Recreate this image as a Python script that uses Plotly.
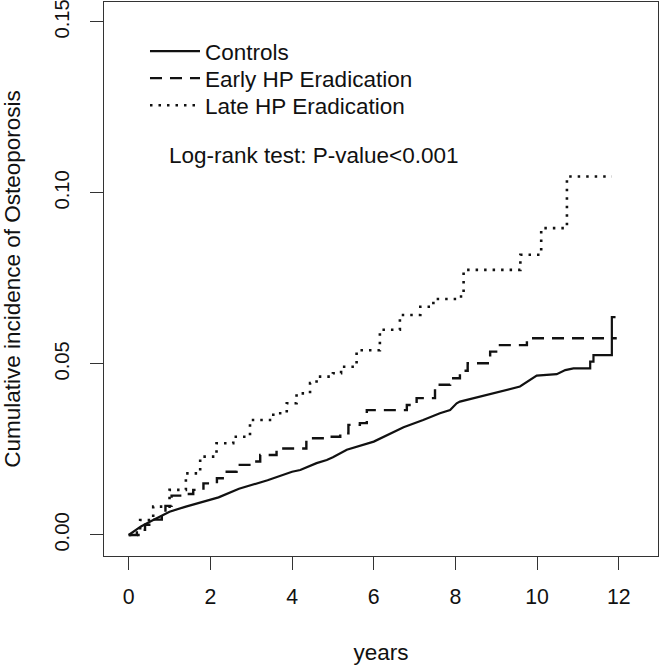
import plotly.graph_objects as go

# ---- data (years, cumulative incidence) ----
controls_t = [0, 0.3, 0.6, 1.0, 1.4, 1.8, 2.2, 2.7, 3.4, 4.0, 4.2, 4.6, 4.85, 5.0, 5.34,
              6.0, 6.73, 7.21, 7.62, 7.87, 8.03, 8.11, 8.44, 9.09, 9.58, 9.99, 10.48,
              10.69, 10.89, 11.3, 11.3, 11.38, 11.38, 11.83, 11.83, 11.92]
controls_v = [0, 0.0025, 0.0044, 0.0068, 0.0083, 0.0097, 0.011, 0.0135, 0.016, 0.0185,
              0.019, 0.021, 0.0219, 0.0227, 0.0249, 0.0273, 0.0315, 0.0336, 0.0356,
              0.0365, 0.0385, 0.039, 0.040, 0.0419, 0.0434, 0.0466, 0.0470, 0.0482,
              0.0487, 0.0487, 0.0507, 0.0507, 0.0526, 0.0526, 0.0637, 0.0637]

early_t = [0, 0.2, 0.4, 0.6, 0.81, 0.9, 1.05, 1.3, 1.58, 1.83, 2.16, 2.4, 2.64, 3.0,
           3.22, 3.62, 4.35, 4.85, 5.18, 5.38, 5.66, 5.83, 6.81, 7.05, 7.5, 7.87, 8.11,
           8.3, 8.85, 9.09, 9.75, 11.95]
early_v = [0, 0.0015, 0.003, 0.0045, 0.0058, 0.0085, 0.0115, 0.012, 0.0132, 0.0151,
           0.0166, 0.0185, 0.0205, 0.0215, 0.0234, 0.0253, 0.0283, 0.0287, 0.0297,
           0.0322, 0.0327, 0.0365, 0.038, 0.040, 0.0439, 0.0458, 0.048, 0.0502,
           0.0536, 0.0555, 0.0575, 0.0575]

late_t = [0, 0.28, 0.6, 1.0, 1.4, 1.75, 2.15, 2.56, 2.97, 3.54, 3.87, 4.11, 4.44, 4.6,
          5.0, 5.2, 5.58, 6.15, 6.64, 7.14, 7.46, 8.07, 8.2, 9.59, 10.1, 10.73, 11.83]
late_v = [0, 0.0044, 0.0083, 0.0132, 0.018, 0.0229, 0.0268, 0.0287, 0.0336, 0.0356,
          0.0385, 0.0414, 0.0444, 0.0463, 0.0473, 0.0492, 0.054, 0.060, 0.0643, 0.0667,
          0.069, 0.0697, 0.0775, 0.0819, 0.0897, 0.1048, 0.1048]

series_names = ["Controls", "Early HP Eradication", "Late HP Eradication"]
x_ticks = [0, 2, 4, 6, 8, 10, 12]
y_ticks = [0.00, 0.05, 0.10, 0.15]
y_tick_labels = ["0.00", "0.05", "0.10", "0.15"]
annotation_text = "Log-rank test: P-value<0.001"

FONT = "Liberation Sans, Arial, sans-serif"
INK = "#111111"
FS = 22.5
TICK_FS = 21.3
YTICK_FS = 20.2

fig = go.Figure()
styles = [
    dict(color=INK, width=2.2, dash="solid", shape="linear"),
    dict(color=INK, width=2.4, dash="12px,8px", shape="hv"),
    dict(color=INK, width=2.6, dash="2.5px,6px", shape="hv"),
]
legend_ids = ["legend", "legend2", "legend3"]
for name, t, v, st, lg in zip(series_names, [controls_t, early_t, late_t],
                              [controls_v, early_v, late_v], styles, legend_ids):
    fig.add_trace(go.Scatter(x=t, y=v, mode="lines", name=name, legend=lg,
                             line=st))

fig.add_annotation(text=annotation_text, xref="paper", yref="paper",
                   x=0.113, y=0.723, xanchor="left", yanchor="middle",
                   showarrow=False, font=dict(size=FS, color=INK, family=FONT))

axis_common = dict(showline=True, linecolor="#333333", linewidth=1.3, mirror=True,
                   ticks="outside", ticklen=13, tickwidth=1.3, tickcolor="#333333",
                   showgrid=False, zeroline=False, ticklabeloverflow="allow")

def legend_box(y):
    return dict(x=0.074, y=y, xanchor="left", yanchor="middle",
                bgcolor="rgba(0,0,0,0)", font=dict(size=FS, color=INK, family=FONT),
                itemwidth=50, borderwidth=0)

fig.update_layout(
    width=660, height=665,
    margin=dict(l=104, r=2, t=2, b=109, autoexpand=False),
    paper_bgcolor="white", plot_bgcolor="white",
    font=dict(family=FONT, size=FS, color=INK),
    showlegend=True,
    legend=legend_box(0.9107),
    legend2=legend_box(0.862),
    legend3=legend_box(0.813),
    xaxis=dict(range=[-0.605, 12.96], tickvals=x_ticks,
               tickfont=dict(size=TICK_FS, color=INK, family=FONT),
               title=dict(text="years", standoff=36, font=dict(size=FS, family=FONT)),
               ticklabelstandoff=8, **axis_common),
    yaxis=dict(range=[-0.00614, 0.1558], tickvals=y_ticks, ticktext=y_tick_labels,
               tickangle=-90,
               tickfont=dict(size=YTICK_FS, color=INK, family=FONT),
               title=dict(text="Cumulative incidence of Osteoporosis", standoff=27,
                          font=dict(size=FS, family=FONT)),
               ticklabelstandoff=13, **axis_common),
)

fig.write_html("out.html",
               config={"displayModeBar": False},
               post_script="document.body.style.margin='0';"
                           "document.body.style.overflow='hidden';")
